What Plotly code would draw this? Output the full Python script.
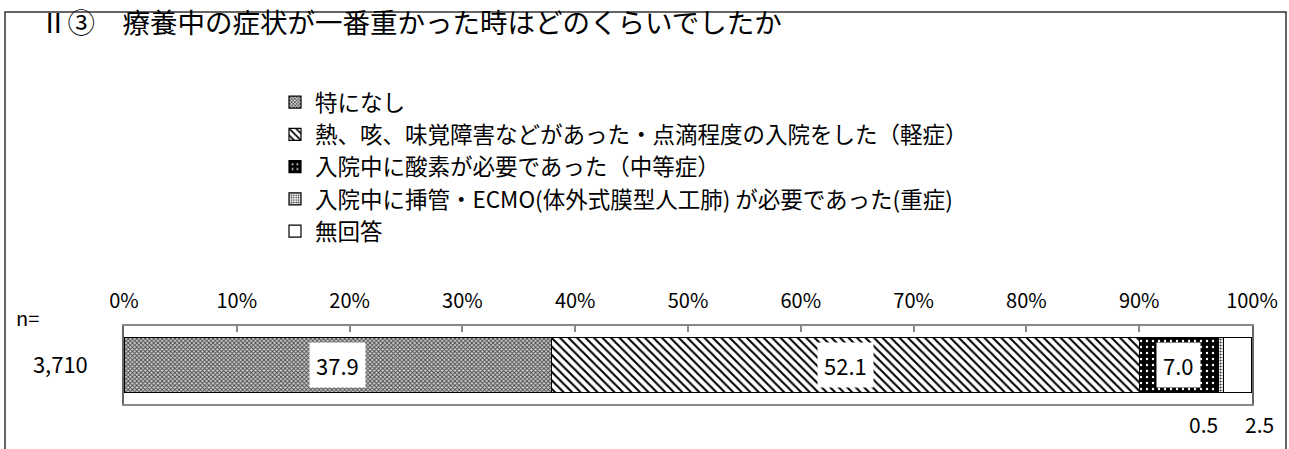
import plotly.graph_objects as go

title_text = "Ⅱ③　療養中の症状が一番重かった時はどのくらいでしたか"
category = ["3,710"]
n_label = "n="
series_names = [
    "特になし",
    "熱、咳、味覚障害などがあった・点滴程度の入院をした（軽症）",
    "入院中に酸素が必要であった（中等症）",
    "入院中に挿管・ECMO(体外式膜型人工肺) が必要であった(重症)",
    "無回答",
]
series_values = [37.9, 52.1, 7.0, 0.5, 2.5]
tick_values = [0, 10, 20, 30, 40, 50, 60, 70, 80, 90, 100]

# styles
patterns = [
    dict(shape="x", size=3, solidity=0.5, fgcolor="#444444", bgcolor="#d0d0d0", fillmode="replace"),
    dict(shape="\\", size=6, solidity=0.35, fgcolor="#000000", bgcolor="#ffffff", fillmode="replace"),
    dict(shape=".", size=6, solidity=0.12, fgcolor="#ffffff", bgcolor="#000000", fillmode="replace"),
    dict(shape=".", size=3, solidity=0.4, fgcolor="#333333", bgcolor="#ffffff", fillmode="replace"),
    dict(shape="", bgcolor="#ffffff", fgcolor="#ffffff", fillmode="replace"),
]
below_shift = {3: -17, 4: 22}

FONT = "Noto Sans CJK JP"
W, H = 1289, 449
ML, MR, MT, MB = 124, 37, 326, 45
PW, PH = W - ML - MR, H - MT - MB

def px(xp):
    return (xp - ML) / PW

def py(yp):
    return (H - MB - yp) / PH

fig = go.Figure()
for i, (name, val) in enumerate(zip(series_names, series_values)):
    fig.add_trace(go.Bar(
        x=[val], y=category, name=name, orientation="h",
        marker=dict(color=patterns[i]["bgcolor"], pattern=patterns[i],
                    line=dict(color="#000000", width=1.2)),
        width=0.70, hoverinfo="skip",
    ))

annotations = []
cum = 0.0
for i, val in enumerate(series_values):
    mid = cum + val / 2
    cum += val
    txt = f"{val:.1f}"
    if val >= 5:
        annotations.append(dict(x=mid, y=category[0], xref="x", yref="y", text=txt,
                                showarrow=False, bgcolor="#ffffff", borderpad=6,
                                font=dict(family=FONT, size=22, color="#000")))
    else:
        annotations.append(dict(x=mid, y=0, xref="x", yref="paper", text=txt,
                                showarrow=False, yanchor="top", yshift=-3,
                                xshift=below_shift.get(i, 0),
                                font=dict(family=FONT, size=21, color="#000")))

annotations.append(dict(x=px(38), y=py(21), xref="paper", yref="paper", text=title_text,
                        showarrow=False, xanchor="left", yanchor="middle",
                        font=dict(family=FONT, size=27.5, color="#000")))
annotations.append(dict(x=px(14), y=py(317), xref="paper", yref="paper", text=n_label,
                        showarrow=False, xanchor="left", yanchor="middle",
                        font=dict(family=FONT, size=20, color="#000")))

shapes = [dict(type="rect", xref="paper", yref="paper",
               x0=px(5), x1=px(1286), y0=py(470), y1=py(12),
               line=dict(color="#333333", width=1.5), fillcolor="rgba(0,0,0,0)", layer="below")]

fig.update_layout(
    width=W, height=H, barmode="stack",
    margin=dict(l=ML, r=MR, t=MT, b=MB, autoexpand=False),
    paper_bgcolor="#ffffff", plot_bgcolor="#ffffff",
    font=dict(family=FONT, color="#000"),
    showlegend=True,
    legend=dict(xref="container", yref="container", x=275 / W, y=1 - 81 / H,
                xanchor="left", yanchor="top", traceorder="normal",
                font=dict(family=FONT, size=22.5, color="#000"),
                bgcolor="rgba(0,0,0,0)", itemclick=False, itemdoubleclick=False),
    annotations=annotations, shapes=shapes,
    xaxis=dict(range=[0, 100], side="top", tickvals=tick_values,
               ticktext=[f"{v}%" for v in tick_values], ticks="inside", ticklen=6,
               tickcolor="#888888", tickwidth=1.5, showgrid=False, zeroline=False,
               showline=True, linecolor="#888888", linewidth=1.5, mirror=True,
               ticklabelstandoff=8, tickfont=dict(family=FONT, size=20, color="#000"),
               fixedrange=True),
    yaxis=dict(showgrid=False, zeroline=False, showline=True, linecolor="#666666",
               linewidth=1.5, mirror=True, ticks="", ticklabelstandoff=30,
               tickfont=dict(family=FONT, size=22, color="#000"), fixedrange=True),
)

fig.write_html("out.html", config=dict(displayModeBar=False),
               post_script="document.body.style.margin='0';document.body.style.overflow='hidden';")
